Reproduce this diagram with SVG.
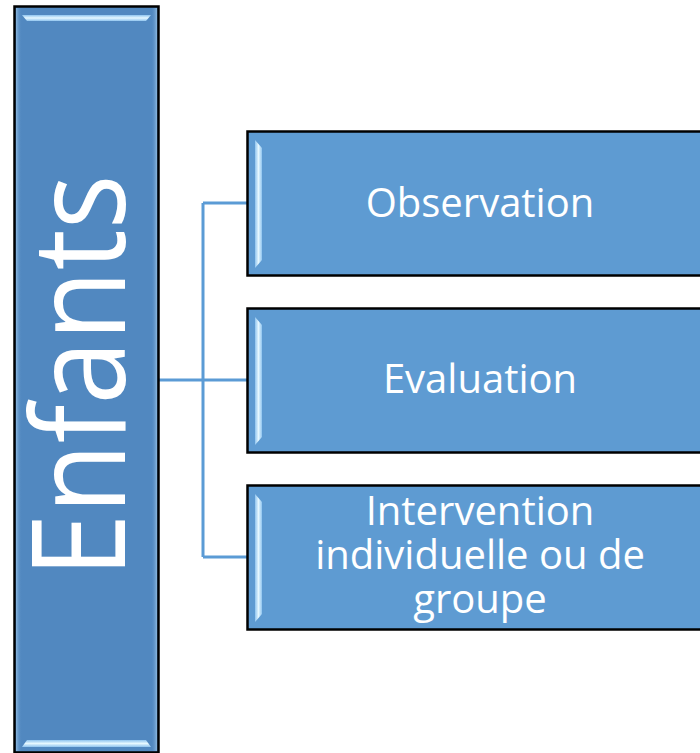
<svg xmlns="http://www.w3.org/2000/svg" width="700" height="753" viewBox="0 0 700 753">
<style>
.lbl{font-family:"Open Sans","DejaVu Sans",sans-serif;fill:#ffffff;font-size:40px;text-anchor:middle}
.child{fill:#5e9bd2;stroke:#000;stroke-width:2.5}
.conn{fill:none;stroke:#5b9bd5;stroke-width:3}
</style>
<defs>
<linearGradient id="edgeL" x1="0" y1="0" x2="1" y2="0">
<stop offset="0" stop-color="#8fc4ef"/><stop offset="0.5" stop-color="#e6f8ff"/><stop offset="1" stop-color="#8fc4ef"/>
</linearGradient>
<linearGradient id="edgeT" x1="0" y1="0" x2="0" y2="1">
<stop offset="0" stop-color="#8fc4ef"/><stop offset="0.5" stop-color="#e6f8ff"/><stop offset="1" stop-color="#8fc4ef"/>
</linearGradient>
<linearGradient id="sideL" x1="0" y1="0" x2="1" y2="0">
<stop offset="0" stop-color="#8ab6de"/><stop offset="1" stop-color="#5188c0" stop-opacity="0"/>
</linearGradient>
<linearGradient id="sideR" x1="1" y1="0" x2="0" y2="0">
<stop offset="0" stop-color="#8ab6de"/><stop offset="1" stop-color="#5188c0" stop-opacity="0"/>
</linearGradient>
</defs>
<g id="connectors">
<path class="conn" d="M159 380 H247 M203 203 V557 M203 203 H247 M203 557 H247"/>
</g>
<g id="enfants">
<rect x="14.5" y="6.5" width="144" height="746" fill="#5188c0" stroke="#000" stroke-width="2.5"/>
<rect x="16" y="8" width="6" height="743" fill="url(#sideL)"/>
<rect x="151" y="8" width="6" height="743" fill="url(#sideR)"/>
<polygon points="22,15 151,15 146,21 27,21" fill="url(#edgeT)"/>
<polygon points="22,747 151,747 146,740 27,740" fill="url(#edgeT)"/>
<text transform="translate(125,376) rotate(-90)" font-family="'Open Sans','DejaVu Sans',sans-serif" font-size="130" fill="#fff" text-anchor="middle" textLength="403" lengthAdjust="spacingAndGlyphs">Enfants</text>
</g>
<g id="observation">
<rect class="child" x="247.5" y="131.5" width="470" height="144"/>
<polygon points="255,140 262,148 262,260 255,268" fill="url(#edgeL)"/>
<text class="lbl" x="480" y="217">Observation</text>
</g>
<g id="evaluation">
<rect class="child" x="247.5" y="308.5" width="470" height="144"/>
<polygon points="255,317 262,325 262,437 255,445" fill="url(#edgeL)"/>
<text class="lbl" x="480" y="393">Evaluation</text>
</g>
<g id="intervention">
<rect class="child" x="247.5" y="485.5" width="470" height="144"/>
<polygon points="255,494 262,502 262,614 255,622" fill="url(#edgeL)"/>
<text class="lbl" x="480" y="525">Intervention<tspan x="480" dy="44">individuelle ou de</tspan><tspan x="480" dy="44">groupe</tspan></text>
</g>
</svg>
